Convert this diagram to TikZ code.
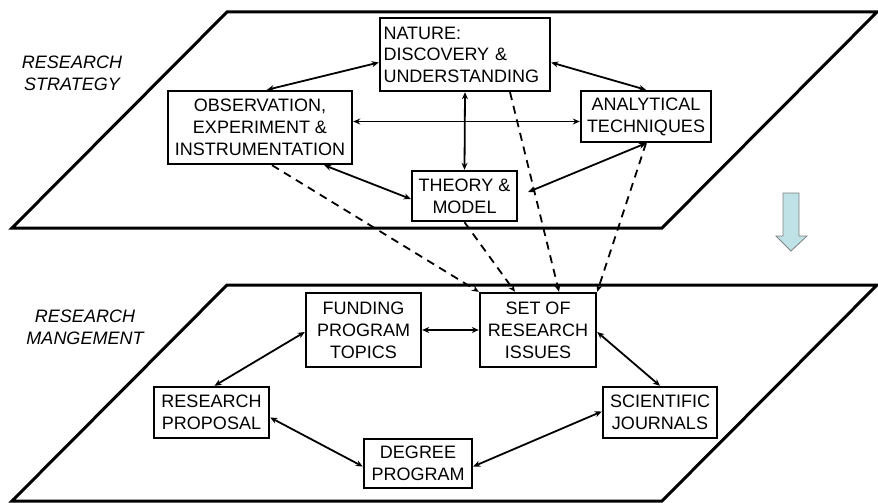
\documentclass[tikz,border=0pt]{standalone}
\usepackage{fontspec}
\setmainfont{Liberation Sans}
\usetikzlibrary{arrows.meta, calc}
\definecolor{arrowblue}{RGB}{190,226,230}

\begin{document}
\begin{tikzpicture}[x=1pt, y=-1pt,
    box/.style={rectangle, draw, line width=2.4pt, inner sep=0pt, align=center, font=\fontsize{18}{22}\selectfont},
    link/.style={{Stealth[length=7pt,width=6pt]}-{Stealth[length=7pt,width=6pt]}, line width=1.8pt},
    feed/.style={-{Stealth[length=7pt,width=6pt]}, line width=1.8pt, dash pattern=on 8pt off 6pt},
    plane/.style={line width=3pt},
    layer/.style={font=\fontsize{18}{22}\selectfont\itshape, align=center}]
    \useasboundingbox (0,0) rectangle (878,503);
    %planes
    \draw[plane] (12,228) -- (227,12) -- (877,12) -- (662,228) -- cycle;
    \draw[plane] (12,501) -- (227,285) -- (877,285) -- (662,501) -- cycle;
    \node[layer](RS) at (72,73) {RESEARCH\\STRATEGY};
    \node[layer](RM) at (85,327) {RESEARCH\\MANGEMENT};
    %strategy
    \node[box, minimum width=170, minimum height=73, text width=163pt, align=left, font=\fontsize{18}{21.5}\selectfont](N) at (465,54.5) {NATURE:\\DISCOVERY \&\\UNDERSTANDING};
    \node[box, minimum width=184, minimum height=73](O) at (260,127.5) {OBSERVATION,\\EXPERIMENT \&\\INSTRUMENTATION};
    \node[box, minimum width=130, minimum height=51](A) at (646,116.5) {ANALYTICAL\\TECHNIQUES};
    \node[box, minimum width=105, minimum height=50](T) at (464.5,196) {THEORY \&\\MODEL};
    %management
    \node[box, minimum width=116, minimum height=74](S) at (538,330) {SET OF\\RESEARCH\\ISSUES};
    \node[box, minimum width=115, minimum height=74](F) at (363.5,330) {FUNDING\\PROGRAM\\TOPICS};
    \node[box, minimum width=115, minimum height=51](P) at (211.5,412.5) {RESEARCH\\PROPOSAL};
    \node[box, minimum width=108, minimum height=49](D) at (418,463.5) {DEGREE\\PROGRAM};
    \node[box, minimum width=114, minimum height=51](J) at (660,412.5) {SCIENTIFIC\\JOURNALS};
    \draw[link] ([yshift=-8pt]N.west) -- ([xshift=7pt]O.north);
    \draw[link] ([yshift=-8pt]N.east) -- (A.north);
    \draw[link] ([yshift=-5pt]O.east |- A.west) -- ([yshift=-5pt]A.west);
    \draw[link] (N.south) -- (T.north);
    \draw[link] ([xshift=-29pt]O.south east) -- ([yshift=-3pt]T.west);
    \draw[link] (A.south) -- ([xshift=10pt,yshift=4pt]T.east);
    \draw[link] (F.east) -- (S.west);
    \draw[link] ([yshift=-2pt]F.west) -- ([xshift=3pt]P.north);
    \draw[link] ([yshift=-5pt]P.east) -- ([yshift=-3pt]D.west);
    \draw[link] ([yshift=-2pt]S.east) -- (J.north);
    \draw[link] ([yshift=1pt]J.west) -- ([yshift=-3pt]D.east);
    \draw[feed] ([xshift=12pt]O.south) -- (S.north west);
    \draw[feed] (T.south) -- ([xshift=-23pt]S.north);
    \draw[feed] ([xshift=45pt]N.south) -- ([xshift=21pt]S.north);
    \draw[feed] (A.south) -- (S.north east);
    %down arrow
    \draw[gray, fill=arrowblue, line width=0.8pt] (783,193) -- (799,193) -- (799,236) -- (807,236) -- (791,251) -- (776,236) -- (783,236) -- cycle;
\end{tikzpicture}
\end{document}
